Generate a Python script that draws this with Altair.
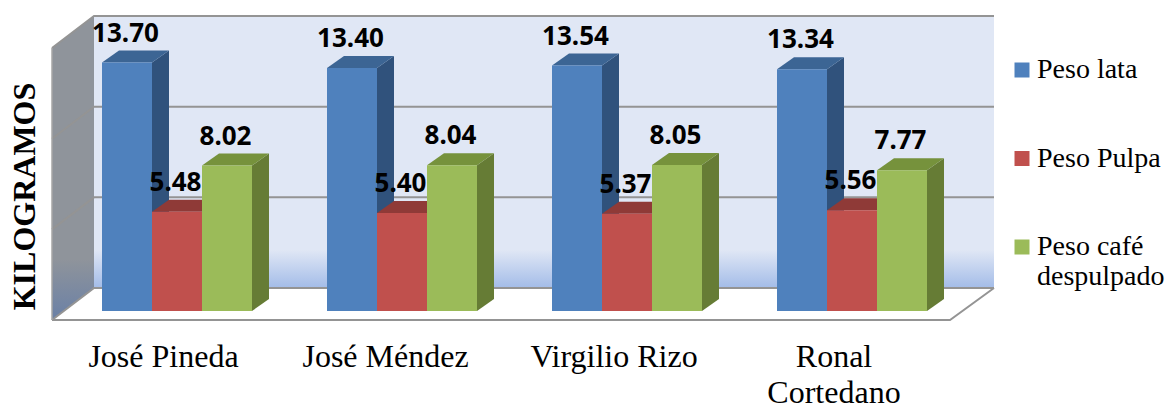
import altair as alt
import pandas as pd

categories = ["José Pineda", "José Méndez", "Virgilio Rizo", "Ronal\nCortedano"]
series = ["Peso lata", "Peso Pulpa", "Peso café despulpado"]
peso_lata = [13.70, 13.40, 13.54, 13.34]
peso_pulpa = [5.48, 5.40, 5.37, 5.56]
peso_cafe = [8.02, 8.04, 8.05, 7.77]
grid_values = [0, 5, 10, 15]

front_colors = ["#4F81BD", "#C0504D", "#9BBB59"]
side_colors = ["#30527C", "#7F3331", "#667C35"]
top_colors = ["#3C6594", "#8F3A37", "#76923C"]

W, H = 1157, 399
PX_PER_CAT = 225.0
PX_PER_KG = 18.13
ux = lambda px: (px - 102) / PX_PER_CAT
vy = lambda py: (311 - py) / PX_PER_KG
X_DOMAIN = [ux(8), ux(8 + W)]
Y_DOMAIN = [vy(8 + H), vy(8)]

BAR_W = 50 / PX_PER_CAT
BAR_DX = 17 / PX_PER_CAT
BAR_DY = 12 / PX_PER_KG
CAT_LABEL_NUDGE = [1.5, -1.5, 2, -3]

x_enc = alt.X("x:Q", scale=alt.Scale(domain=X_DOMAIN, nice=False, zero=False), axis=None)
def y_enc():
    return alt.Y("y:Q", scale=alt.Scale(domain=Y_DOMAIN, nice=False, zero=False), axis=None, stack=None)
y2_enc = alt.Y2("y2:Q")

# Frame geometry
FL, FR = ux(52), ux(950)
BL, BR = ux(94), ux(994)
FRONT = lambda v: vy(320) + v
BACK = lambda v: vy(288) + v

wall_grad = alt.Gradient(gradient="linear", x1=0, x2=0, y1=0, y2=1, stops=[
    alt.GradientStop(offset=0, color="#E0E7F5"),
    alt.GradientStop(offset=0.86, color="#E0E7F5"),
    alt.GradientStop(offset=1, color="#A3BCE8"),
])
side_grad = alt.Gradient(gradient="linear", x1=0, x2=0, y1=0, y2=1, stops=[
    alt.GradientStop(offset=0, color="#8F949B"),
    alt.GradientStop(offset=0.8, color="#8F949B"),
    alt.GradientStop(offset=1, color="#6A80A6"),
])

layers = []
layers.append(alt.Chart(pd.DataFrame([{"x": BL, "y": BACK(0), "y2": BACK(15)},
                                      {"x": BR, "y": BACK(0), "y2": BACK(15)}]))
              .mark_area(fill=wall_grad).encode(x=x_enc, y=y_enc(), y2=y2_enc))
layers.append(alt.Chart(pd.DataFrame([{"x": FL, "y": FRONT(0), "y2": FRONT(15)},
                                      {"x": BL, "y": BACK(0), "y2": BACK(15)}]))
              .mark_area(fill=side_grad).encode(x=x_enc, y=y_enc(), y2=y2_enc))

# Gridlines across the back wall and down the side wall, floor outline
rows = []
for g in grid_values:
    rows += [{"x": FL, "y": FRONT(g), "g": g}, {"x": BL, "y": BACK(g), "g": g},
             {"x": BR, "y": BACK(g), "g": g}]
rows += [{"x": FL, "y": FRONT(0), "g": "floor"}, {"x": FR, "y": FRONT(0), "g": "floor"},
         {"x": BR, "y": BACK(0), "g": "floor"}]
layers.append(alt.Chart(pd.DataFrame(rows)).mark_line(color="#949494", strokeWidth=2)
              .encode(x=x_enc, y=y_enc(), detail="g:N"))
layers.append(alt.Chart(pd.DataFrame([{"x": FL, "y": FRONT(0)}, {"x": FL, "y": FRONT(15)}]))
              .mark_line(color="#A6A6A6", strokeWidth=1.5).encode(x=x_enc, y=y_enc()))

values = [peso_lata, peso_pulpa, peso_cafe]
color_enc = alt.Color("s:N", scale=alt.Scale(domain=series, range=front_colors),
                      legend=alt.Legend(
                          title=None, orient="none", legendX=1000, legendY=48,
                          symbolType="square", symbolSize=225, symbolStrokeWidth=0,
                          symbolOpacity=1, rowPadding=60.5, labelOffset=1,
                          labelFont="Liberation Serif", labelFontSize=28, labelColor="#000000",
                          labelLimit=200, labelBaseline="middle",
                          labelExpr="datum.label == 'Peso café despulpado' ? ['Peso café', 'despulpado'] : datum.label"))

for si, name in enumerate(series):
    side, top, front = [], [], []
    for ci, v in enumerate(values[si]):
        x0 = ci + si * BAR_W
        x1 = x0 + BAR_W
        side += [{"x": x1, "y": 0, "y2": v, "c": ci},
                 {"x": x1 + BAR_DX, "y": BAR_DY, "y2": v + BAR_DY, "c": ci}]
        top += [{"x": x0, "y": v, "y2": v, "c": ci},
                {"x": x0 + BAR_DX, "y": v, "y2": v + BAR_DY, "c": ci},
                {"x": x1, "y": v, "y2": v + BAR_DY, "c": ci},
                {"x": x1 + BAR_DX, "y": v + BAR_DY, "y2": v + BAR_DY, "c": ci}]
        front.append({"x": x0, "x2": x1, "y": 0, "y2": v, "s": name})
    layers.append(alt.Chart(pd.DataFrame(side)).mark_area(color=side_colors[si])
                  .encode(x=x_enc, y=y_enc(), y2=y2_enc, detail="c:N"))
    layers.append(alt.Chart(pd.DataFrame(top)).mark_area(color=top_colors[si])
                  .encode(x=x_enc, y=y_enc(), y2=y2_enc, detail="c:N"))
    layers.append(alt.Chart(pd.DataFrame(front)).mark_rect(opacity=1)
                  .encode(x=x_enc, x2=alt.X2("x2:Q"), y=y_enc(), y2=y2_enc, color=color_enc))

labels = []
for si, name in enumerate(series):
    for ci, v in enumerate(values[si]):
        labels.append({"x": ci + (si + 0.5) * BAR_W, "y": v, "t": f"{v:.2f}"})
layers.append(alt.Chart(pd.DataFrame(labels))
              .mark_text(font="Noto Sans", fontSize=26, fontWeight="bold", color="#000000",
                         baseline="alphabetic", align="center", dx=-1.5, dy=-21)
              .encode(x=x_enc, y=y_enc(), text="t:N"))

cat_rows = [{"x": i + ux(162 + CAT_LABEL_NUDGE[i]), "y": vy(367), "t": c} for i, c in enumerate(categories)]
layers.append(alt.Chart(pd.DataFrame(cat_rows))
              .mark_text(font="Liberation Serif", fontSize=32, color="#000000", lineBreak="\n",
                         lineHeight=36, baseline="alphabetic", align="center")
              .encode(x=x_enc, y=y_enc(), text="t:N"))

layers.append(alt.Chart(pd.DataFrame([{"x": ux(35), "y": vy(196.5), "t": "KILOGRAMOS"}]))
              .mark_text(font="Liberation Serif", fontSize=32, fontWeight="bold", color="#000000",
                         angle=270, baseline="alphabetic", align="center")
              .encode(x=x_enc, y=y_enc(), text="t:N"))

chart = (alt.layer(*layers)
         .properties(width=W, height=H, padding=0, autosize=alt.AutoSizeParams(type="none"))
         .configure_view(stroke=None))
chart.save("out.html", embed_options={"renderer": "svg", "actions": False})
